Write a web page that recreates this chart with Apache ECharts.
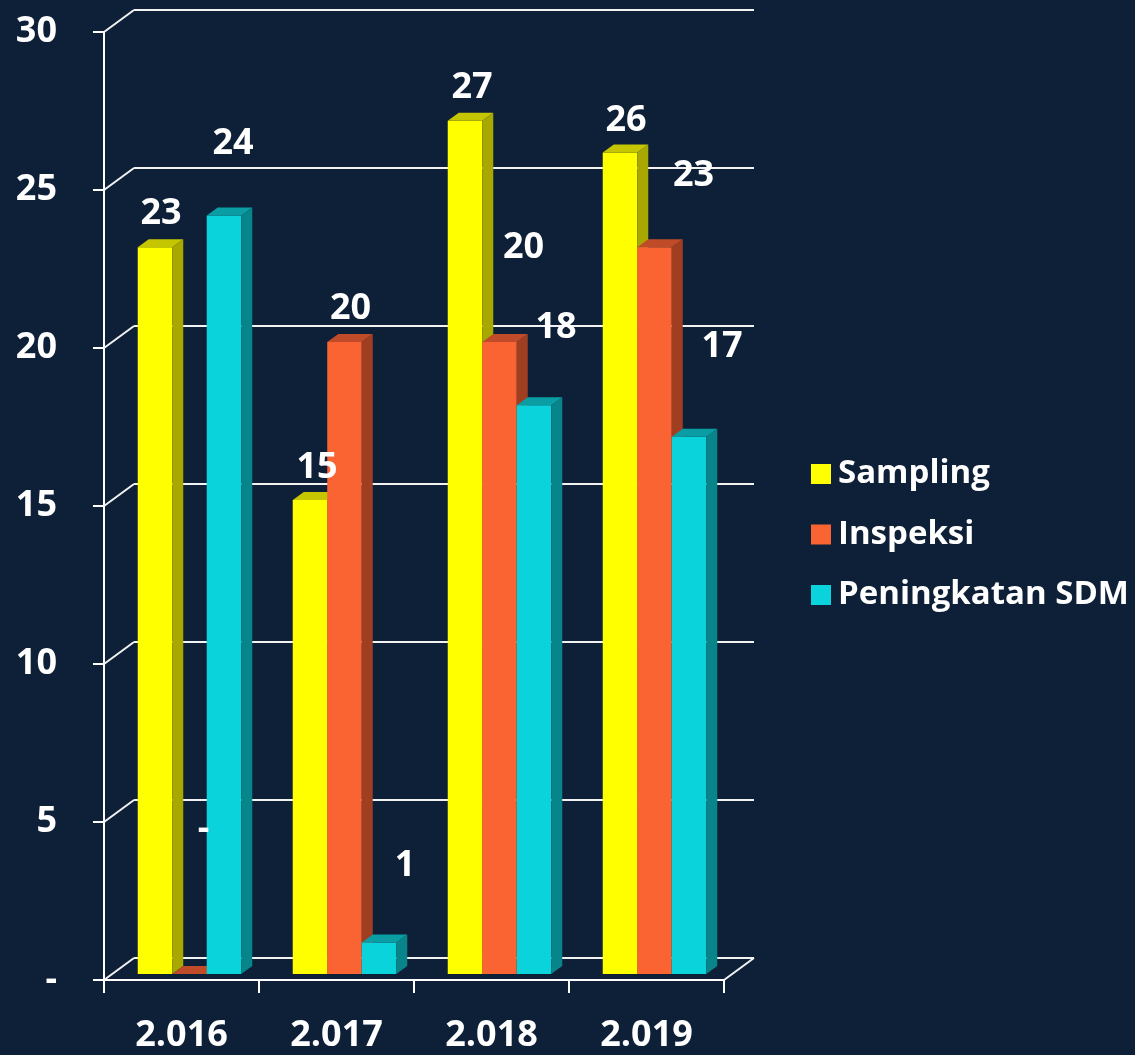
<!DOCTYPE html>
<html>
<head>
<meta charset="utf-8">
<script src="https://cdn.jsdelivr.net/npm/echarts@6/dist/echarts.min.js"></script>
<style>
html,body{margin:0;padding:0;background:#0E2038;}
#chart{width:1135px;height:1055px;}
</style>
</head>
<body>
<div id="chart"></div>
<script>
// ---- data ----
const categories = ['2.016', '2.017', '2.018', '2.019'];
const seriesNames = ['Sampling', 'Inspeksi', 'Peningkatan SDM'];
const sampling = [23, 15, 27, 26];
const inspeksi = [0, 20, 20, 23];
const sdm = [24, 1, 18, 17];
const yTicks = [0, 5, 10, 15, 20, 25, 30];

// ---- styling / layout ----
const FONT = '"Open Sans", "DejaVu Sans", sans-serif';
const faceColors = [
  { front: '#FFFF00', side: '#A8A800', top: '#C6C600' },
  { front: '#FA6433', side: '#A03E22', top: '#C04B28' },
  { front: '#0AD3DB', side: '#08858A', top: '#0A9EA4' }
];
// label nudges relative to the top-front centre of each bar (layout only)
const labelNudge = [
  [[6, -33], [7, -32], [7, -33], [6, -32]],
  [[14, -145], [6, -33], [24, -94], [39, -71]],
  [[9, -72], [26, -77], [22, -77], [33, -90]]
];
const BAR_RATIO = 0.2226;
const SHIFT_X = 8, SHIFT_Y = -6;     // bars sit a little into the depth
const SIDE_DX = 11, SIDE_DY = -8;    // bar depth
const BACK_DX = 30, BACK_DY = -22;   // back wall offset

const allValues = [sampling, inspeksi, sdm];

function barGeom(api, ci, v, si) {
  const catW = api.size([1, 0])[0];
  const bw = catW * BAR_RATIO;
  const c = api.coord([ci, v]);
  const b = api.coord([ci, 0]);
  const x0 = c[0] - 1.5 * bw + si * bw + SHIFT_X;
  return { x0: x0, x1: x0 + bw, yt: c[1] + SHIFT_Y, yb: b[1] + SHIFT_Y, bw: bw };
}

function makeBarRender(si) {
  return function (params, api) {
    const ci = api.value(0), v = api.value(1);
    const g = barGeom(api, ci, v, si);
    const col = faceColors[si];
    return {
      type: 'group',
      children: [
        { type: 'rect', shape: { x: g.x0, y: g.yt, width: g.bw, height: g.yb - g.yt },
          style: { fill: col.front } },
        { type: 'polygon', shape: { points: [[g.x1, g.yb], [g.x1 + SIDE_DX, g.yb + SIDE_DY], [g.x1 + SIDE_DX, g.yt + SIDE_DY], [g.x1, g.yt]] },
          style: { fill: col.side } },
        { type: 'polygon', shape: { points: [[g.x0, g.yt], [g.x0 + SIDE_DX, g.yt + SIDE_DY], [g.x1 + SIDE_DX, g.yt + SIDE_DY], [g.x1, g.yt]] },
          style: { fill: col.top } }
      ]
    };
  };
}

function wallRender(params, api) {
  const v = api.value(1);
  const cs = params.coordSys;
  const y = api.coord([0, v])[1];
  const xl = cs.x, xr = cs.x + cs.width;
  const lineStyle = { stroke: '#F2F2F2', lineWidth: 2 };
  const children = [
    { type: 'line', shape: { x1: xl, y1: y, x2: xl + BACK_DX, y2: y + BACK_DY }, style: lineStyle },
    { type: 'line', shape: { x1: xl + BACK_DX, y1: y + BACK_DY, x2: xr + BACK_DX, y2: y + BACK_DY }, style: lineStyle }
  ];
  if (v === 0) {
    children.push({ type: 'line', shape: { x1: xr, y1: y, x2: xr + BACK_DX, y2: y + BACK_DY }, style: lineStyle });
  }
  return { type: 'group', children: children };
}

function labelRender(params, api) {
  const ci = api.value(0), v = api.value(1), si = api.value(2);
  const g = barGeom(api, ci, v, si);
  const n = labelNudge[si][ci];
  return {
    type: 'text',
    style: {
      text: v === 0 ? '-' : String(v),
      x: (g.x0 + g.x1) / 2 + n[0],
      y: g.yt + n[1],
      fill: '#FFFFFF',
      font: 'bold 36px ' + FONT,
      align: 'center',
      verticalAlign: 'middle'
    }
  };
}

const barSeries = allValues.map(function (vals, si) {
  return {
    name: seriesNames[si],
    type: 'custom',
    z: 3,
    itemStyle: { color: faceColors[si].front },
    renderItem: makeBarRender(si),
    data: vals.map(function (v, i) { return [i, v]; }),
    encode: { x: 0, y: 1 }
  };
});

const labelData = [];
allValues.forEach(function (vals, si) {
  vals.forEach(function (v, i) { labelData.push([i, v, si]); });
});

const chart = echarts.init(document.getElementById('chart'), null, { renderer: 'canvas' });
chart.setOption({
  backgroundColor: '#0E2038',
  animation: false,
  textStyle: { fontFamily: FONT },
  grid: { left: 104, top: 32, width: 620, height: 948 },
  legend: {
    orient: 'vertical',
    left: 806,
    top: 449,
    itemWidth: 20,
    itemHeight: 20,
    itemGap: 20.5,
    icon: 'rect',
    data: seriesNames,
    textStyle: { color: '#FFFFFF', fontSize: 33, fontWeight: 'bold', fontFamily: FONT, lineHeight: 40, padding: [0, 0, 0, 2] }
  },
  xAxis: {
    type: 'category',
    data: categories,
    boundaryGap: true,
    axisLine: { lineStyle: { color: '#FFFFFF', width: 2 } },
    axisTick: { show: true, length: 13, lineStyle: { color: '#FFFFFF', width: 2 } },
    axisLabel: { color: '#FFFFFF', fontSize: 36, fontWeight: 'bold', fontFamily: FONT, margin: 38 },
    splitLine: { show: false }
  },
  yAxis: {
    type: 'value',
    min: 0, max: 30, interval: 5,
    axisLine: { show: true, lineStyle: { color: '#FFFFFF', width: 2 } },
    axisTick: { show: true, length: 11, lineStyle: { color: '#FFFFFF', width: 2 } },
    axisLabel: {
      color: '#FFFFFF', fontSize: 36, fontWeight: 'bold', fontFamily: FONT, margin: 47,
      formatter: function (v) { return v === 0 ? '-' : String(v); }
    },
    splitLine: { show: false }
  },
  series: [
    {
      type: 'custom',
      name: 'wall',
      z: 1,
      silent: true,
      renderItem: wallRender,
      data: yTicks.map(function (t) { return [0, t]; }),
      encode: { x: 0, y: 1 }
    }
  ].concat(barSeries).concat([
    {
      type: 'custom',
      name: 'labels',
      z: 10,
      silent: true,
      renderItem: labelRender,
      data: labelData,
      encode: { x: 0, y: 1 }
    }
  ])
});
</script>
</body>
</html>
